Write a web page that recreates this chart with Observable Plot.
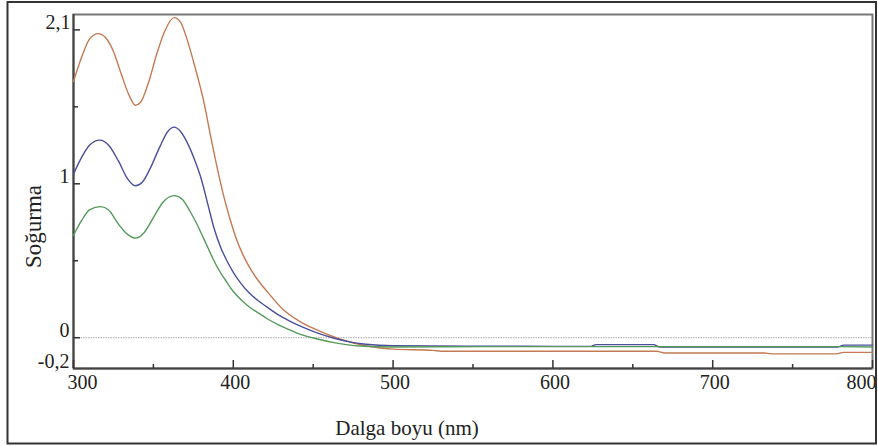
<!DOCTYPE html>
<html><head><meta charset="utf-8">
<script src="https://cdn.jsdelivr.net/npm/d3@7"></script>
<script src="https://cdn.jsdelivr.net/npm/@observablehq/plot@0.6"></script>
<style>
body{margin:0;background:#fff}
#chart{position:relative;width:878px;height:446px}
#chart svg, #chart svg text{font-family:"Liberation Serif","Times New Roman",serif !important;}
</style>
</head><body><div id="chart"></div>
<script>
// Orange series
const orangeX = [300,305,310,315.5,320,325,330,335,338.7,342,347,352,357,363,367,371,376,381.5,386,390,394,398,402,406,410,415,422,431,441,452,467,483,500,525,530,665,670,732,737,777,782,800];
const orangeY = [1.665,1.82,1.94,1.976,1.95,1.86,1.71,1.57,1.51,1.53,1.66,1.84,1.99,2.08,2.05,1.94,1.76,1.535,1.30,1.10,0.92,0.77,0.64,0.54,0.46,0.38,0.29,0.185,0.11,0.052,-0.01,-0.052,-0.074,-0.082,-0.088,-0.088,-0.099,-0.099,-0.105,-0.105,-0.095,-0.095];
// Blue series
const blueX = [300,305,310,316.5,322,328,334,338.7,343,348,354,359,363,367,372,376,380,384,388,392,396,400,405,410,415,421,428,435,442,452,462,472,483,500,560,600,624,627,663,667,778,782,800];
const blueY = [1.063,1.17,1.25,1.284,1.25,1.15,1.03,0.987,1.01,1.10,1.24,1.34,1.368,1.34,1.25,1.15,1.03,0.87,0.71,0.59,0.50,0.425,0.35,0.29,0.245,0.20,0.15,0.11,0.075,0.033,0.0,-0.025,-0.042,-0.052,-0.055,-0.056,-0.056,-0.045,-0.045,-0.06,-0.06,-0.048,-0.048];
// Green series
const greenX = [300,305,310,317,322,328,334,339,344,350,356,363,368,373,379,383,387,391,395,400,405,410,415,421,428,435,442,452,463,479,500,560,692,772,800];
const greenY = [0.665,0.76,0.83,0.852,0.83,0.74,0.67,0.647,0.68,0.78,0.88,0.923,0.90,0.82,0.70,0.61,0.52,0.44,0.375,0.30,0.245,0.20,0.165,0.125,0.085,0.052,0.022,-0.007,-0.032,-0.054,-0.06,-0.058,-0.058,-0.058,-0.06];

const xMajor = [300,400,500,600,700,800];
const xMinor = [350,450,550,650,750];
const yMajor = [0,1,2];
const yMinor = [0.5,1.5];
const yTop = [2.1];
const yOther = [1,0,-0.2];
const xLabel = "Dalga boyu (nm)";
const yLabel = "Soğurma";

const series = [
  {name:"orange", xs:orangeX, ys:orangeY, color:"#c47a52"},
  {name:"blue", xs:blueX, ys:blueY, color:"#4a4f9c"},
  {name:"green", xs:greenX, ys:greenY, color:"#55995a"}
];
const rows = series.flatMap(s => s.xs.map((x,i) => ({series:s.name, x, y:s.ys[i]})));
const colorOf = Object.fromEntries(series.map(s => [s.name, s.color]));
const fmt = d => String(d).replace(".", ",");

const plot = Plot.plot({
  width: 878, height: 446,
  marginLeft: 73, marginRight: 6, marginTop: 14, marginBottom: 78,
  style: {fontSize: "20px", background: "white", color: "#222"},
  x: {domain: [300, 800]},
  y: {domain: [-0.2, 2.1]},
  marks: [
    Plot.ruleY([0], {stroke: "#aaa", strokeWidth: 1, strokeDasharray: "1.5,1"}),
    Plot.frame({stroke: "#777", strokeWidth: 2}),
    Plot.ruleX([300], {stroke: "#444", strokeWidth: 2}),
    Plot.ruleY([-0.2], {stroke: "#444", strokeWidth: 2}),
    // inward ticks
    Plot.axisX(xMajor, {anchor: "bottom", tickSize: 8, dy: -8, tickFormat: () => "", label: null, stroke: "#333", strokeWidth: 1.5}),
    Plot.axisX(xMinor, {anchor: "bottom", tickSize: 4, dy: -4, tickFormat: () => "", label: null, stroke: "#333", strokeWidth: 1.5}),
    Plot.axisY(yMajor, {anchor: "left", tickSize: 7, dx: 7, tickFormat: () => "", label: null, stroke: "#333", strokeWidth: 1.5}),
    Plot.axisY(yMinor, {anchor: "left", tickSize: 5, dx: 5, tickFormat: () => "", label: null, stroke: "#333", strokeWidth: 1.5}),
    // tick labels
    Plot.axisX([400,500,600,700], {anchor: "bottom", tickSize: 0, tickPadding: 6, dx: 2, label: null, fill: "#222", fontSize: 20}),
    Plot.axisX([300], {anchor: "bottom", tickSize: 0, tickPadding: 6, dx: -6, textAnchor: "start", label: null, fill: "#222", fontSize: 20}),
    Plot.axisX([800], {anchor: "bottom", tickSize: 0, tickPadding: 6, dx: 4, textAnchor: "end", label: null, fill: "#222", fontSize: 20}),
    Plot.axisY(yTop, {anchor: "left", tickSize: 0, tickPadding: 3, dy: 8, tickFormat: fmt, label: null, fill: "#222", fontSize: 20}),
    Plot.axisY(yOther, {anchor: "left", tickSize: 0, tickPadding: 4, dy: -7, tickFormat: fmt, label: null, fill: "#222", fontSize: 20}),
    // axis titles
    Plot.text([xLabel], {frameAnchor: "bottom", textAnchor: "middle", lineAnchor: "middle", dx: -66, dy: 60, fontSize: 21, fill: "#222"}),
    Plot.text([yLabel], {frameAnchor: "left", textAnchor: "middle", lineAnchor: "middle", rotate: -90, dx: -40, dy: 35, fontSize: 23, fill: "#222"}),
    // curves
    Plot.line(rows, {x: "x", y: "y", z: "series", stroke: d => colorOf[d.series], strokeWidth: 1.4, curve: "monotone-x"})
  ]
});

d3.select(plot).append("rect")
  .attr("x", 7.5).attr("y", 2).attr("width", 868.5).attr("height", 441.5)
  .attr("fill", "none").attr("stroke", "#333").attr("stroke-width", 2);

document.getElementById("chart").appendChild(plot);
</script>
</body></html>
